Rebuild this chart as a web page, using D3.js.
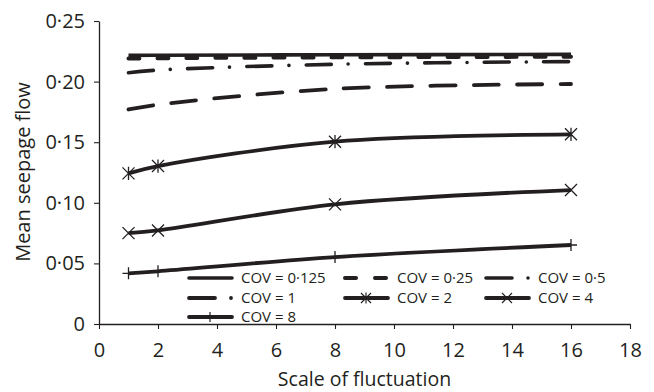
<!DOCTYPE html>
<html><head><meta charset="utf-8">
<script src="https://cdn.jsdelivr.net/npm/d3@7"></script>
<style>
html,body{margin:0;padding:0;background:#fff;}
svg{display:block;}
text{font-family:"Open Sans","Noto Sans",sans-serif;fill:#231f20;}
</style></head>
<body>
<svg id="chart" width="654" height="392"></svg>
<script>
// ---- data ----
const scaleOfFluctuation = [1, 2, 8, 16];
const cov0125 = [0.2216, 0.2218, 0.2221, 0.2225];
const cov025  = [0.2190, 0.2193, 0.2200, 0.2205];
const cov05   = [0.2073, 0.2095, 0.2143, 0.2165];
const cov1    = [0.177, 0.181, 0.194, 0.198];
const cov2    = [0.1243, 0.1303, 0.1504, 0.1565];
const cov4    = [0.0750, 0.0772, 0.0987, 0.1105];
const cov8    = [0.0418, 0.0435, 0.0552, 0.0652];
const seriesLabels = ["COV = 0·125", "COV = 0·25", "COV = 0·5", "COV = 1", "COV = 2", "COV = 4", "COV = 8"];
const xTicks = [0, 2, 4, 6, 8, 10, 12, 14, 16, 18];
const yTicks = [0, 0.05, 0.10, 0.15, 0.20, 0.25];
const yTickLabels = ["0", "0·05", "0·10", "0·15", "0·20", "0·25"];
const xTitle = "Scale of fluctuation";
const yTitle = "Mean seepage flow";

// ---- layout / styles ----
const ink = "#231f20";
const svg = d3.select("#chart");
const x = d3.scaleLinear().domain([0, 18]).range([99, 630]);
const y = d3.scaleLinear().domain([0, 0.25]).range([324, 21]);

const allValues = [cov0125, cov025, cov05, cov1, cov2, cov4, cov8];
const styles = [
  {w: 3.6, dash: null, marker: null},
  {w: 4, dash: "11,18", marker: null, legendDash: "11,19"},
  {w: 3.6, dash: "25,17,0.01,17.3", marker: null, legendDash: "26,16,0.01,30"},
  {w: 3.8, dash: "25,18.3", marker: null, legendDash: "26,16,0.01,30"},
  {w: 3.8, dash: null, marker: "asterisk"},
  {w: 3.8, dash: null, marker: "cross"},
  {w: 3.8, dash: null, marker: "plus"}
];

function markerPath(type, s) {
  if (type === "asterisk") return `M${-s},${-s}L${s},${s}M${-s},${s}L${s},${-s}M0,${-s*1.1}L0,${s*1.1}`;
  if (type === "cross") return `M${-s},${-s}L${s},${s}M${-s},${s}L${s},${-s}`;
  if (type === "plus") return `M${-s},0L${s},0M0,${-s}L0,${s}`;
  return "";
}

// axes
const xAxis = d3.axisBottom(x).tickValues(xTicks).tickSize(5).tickSizeOuter(0).tickPadding(14);
const yAxis = d3.axisLeft(y).tickValues(yTicks).tickSize(5).tickSizeOuter(0).tickPadding(9)
  .tickFormat((d, i) => yTickLabels[i]);

const gx = svg.append("g").attr("transform", "translate(0,324)").call(xAxis);
const gy = svg.append("g").attr("transform", "translate(99,0)").call(yAxis);
[gx, gy].forEach(g => {
  g.select(".domain").attr("stroke", ink).attr("stroke-width", 1.3);
  g.selectAll(".tick line").attr("stroke", ink).attr("stroke-width", 1.1);
  g.selectAll(".tick text").attr("font-size", 20).attr("fill", ink)
    .style("font-family", '"Open Sans","Noto Sans",sans-serif');
});

svg.append("text").attr("x", (x(0) + x(18)) / 2).attr("y", 386)
  .attr("text-anchor", "middle").attr("font-size", 19.5).text(xTitle);
svg.append("text").attr("transform", "translate(30,172) rotate(-90)")
  .attr("text-anchor", "middle").attr("font-size", 20).text(yTitle);

// lines
const line = d3.line().x(d => x(d[0])).y(d => y(d[1])).curve(d3.curveCatmullRom.alpha(0.5));
allValues.forEach((vals, i) => {
  const st = styles[i];
  const pts = scaleOfFluctuation.map((sx, j) => [sx, vals[j]]);
  svg.append("path").datum(pts).attr("d", line)
    .attr("fill", "none").attr("stroke", ink).attr("stroke-width", st.w)
    .attr("stroke-linecap", st.dash ? "round" : "butt")
    .attr("stroke-dasharray", st.dash);
  if (st.marker) {
    svg.append("g").selectAll("path").data(pts).join("path")
      .attr("transform", d => `translate(${x(d[0])},${y(d[1])})`)
      .attr("d", markerPath(st.marker, 6))
      .attr("fill", "none").attr("stroke", ink).attr("stroke-width", 1.3);
  }
});

// legend
const rowY = [278, 298, 317];
const colX = [187, 343, 484];
const sampleLen = 46;
const legend = svg.append("g");
seriesLabels.forEach((lab, i) => {
  const r = Math.floor(i / 3), c = i % 3;
  const st = styles[i];
  const x0 = colX[c], yy = rowY[r];
  const g = legend.append("g");
  g.append("line").attr("x1", x0 + 2).attr("x2", x0 + sampleLen - 1).attr("y1", yy).attr("y2", yy)
    .attr("stroke", ink).attr("stroke-width", st.w)
    .attr("stroke-linecap", "round")
    .attr("stroke-dasharray", st.legendDash || st.dash);
  if (st.marker) {
    g.append("path").attr("transform", `translate(${x0 + sampleLen / 2},${yy})`)
      .attr("d", markerPath(st.marker, 5))
      .attr("fill", "none").attr("stroke", ink).attr("stroke-width", 1.2);
  }
  g.append("text").attr("x", x0 + 54).attr("y", yy).attr("dy", "0.36em")
    .attr("font-size", 15).text(lab);
});
</script>
</body></html>
